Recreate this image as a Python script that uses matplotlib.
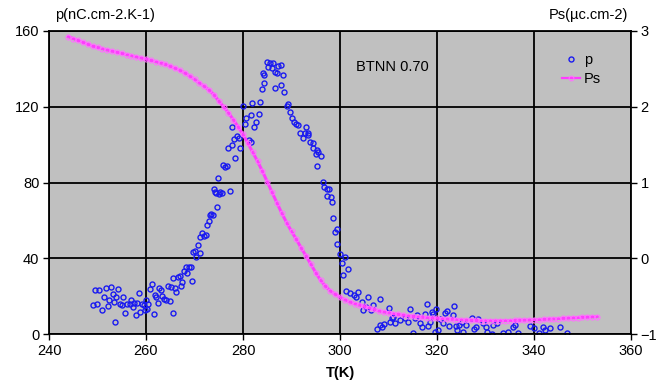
import matplotlib
matplotlib.use("Agg")
import matplotlib.pyplot as plt
from matplotlib.lines import Line2D

plt.rcParams['font.family'] = ['Liberation Sans', 'DejaVu Sans']

# Pyroelectric coefficient p (left axis)
T_p = [249.1, 249.5, 249.8, 250.4, 250.9, 251.4, 251.8, 252.1, 252.4, 252.8,
       253.1, 253.4, 253.6, 253.9, 254.3, 254.6, 255.0, 255.3, 255.7, 256.0,
       256.6, 256.9, 257.4, 257.6, 258.0, 258.2, 258.6, 258.8, 259.1, 259.5,
       259.7, 260.0, 260.2, 260.5, 260.9, 261.2, 261.6, 261.8, 262.1, 262.4,
       262.7, 263.1, 263.3, 263.8, 264.2, 264.5, 264.9, 265.2, 265.5, 265.6,
       265.9, 266.2, 266.6, 267.0, 267.3, 267.5, 267.8, 268.2, 268.5, 268.9,
       269.2, 269.4, 269.6, 270.0, 270.4, 270.8, 271.1, 271.2, 271.6, 271.9,
       272.4, 272.5, 272.9, 273.2, 273.4, 273.9, 274.0, 274.3, 274.4, 274.7,
       274.9, 275.0, 275.3, 275.7, 275.9, 276.3, 276.6, 277.0, 277.3, 277.7,
       277.7, 278.1, 278.4, 278.7, 279.2, 279.4, 279.9, 280.4, 280.6, 281.3,
       281.6, 281.6, 281.9, 282.3, 282.7, 283.3, 283.5, 283.9, 284.1, 284.3,
       284.4, 284.9, 285.2, 285.6, 285.9, 286.1, 286.6, 286.6, 287.1, 287.3,
       287.8, 287.8, 288.2, 288.5, 289.0, 289.3, 289.7, 290.0, 290.5, 290.9,
       291.4, 291.8, 292.3, 292.8, 293.0, 293.5, 293.5, 293.8, 294.4, 294.5,
       295.1, 295.2, 295.3, 295.5, 296.0, 296.4, 296.7, 297.3, 297.4, 297.8,
       298.1, 298.3, 298.6, 299.0, 299.3, 299.4, 299.9, 300.4, 300.7, 301.0,
       301.2, 301.7, 302.1, 302.8, 303.3, 303.8, 304.5, 304.8, 305.4, 305.8,
       306.3, 306.9, 307.6, 308.2, 308.2, 308.6, 309.1, 310.0, 310.3, 310.7,
       311.0, 311.3, 312.4, 313.4, 314.1, 314.4, 315.0, 315.5, 315.9, 316.5,
       317.0, 317.5, 317.9, 318.2, 318.6, 318.9, 319.2, 319.6, 319.8, 320.3,
       320.6, 321.3, 321.6, 322.1, 322.5, 323.2, 323.6, 323.9, 324.2, 324.6,
       325.1, 325.4, 326.0, 327.2, 327.6, 328.0, 328.5, 329.5, 330.1, 330.4,
       331.3, 331.6, 332.3, 333.7, 334.7, 335.6, 336.1, 336.8, 339.2, 339.9,
       341.1, 341.8, 342.3, 343.2, 345.4, 346.9]
p_vals = [15.3, 23.2, 16.0, 23.2, 12.7, 19.7, 24.1, 14.8, 17.7, 25.0,
          21.2, 16.9, 6.5, 19.7, 23.6, 16.0, 15.1, 19.7, 10.9, 16.0,
          15.6, 18.0, 14.0, 16.5, 9.9, 16.5, 21.8, 11.6, 16.0, 15.1,
          12.5, 18.0, 13.4, 15.6, 23.6, 26.4, 10.5, 20.6, 19.4, 16.4,
          24.1, 23.0, 19.9, 18.4, 17.7, 25.3, 17.2, 24.6, 11.0, 29.4,
          24.1, 22.3, 29.9, 30.6, 25.3, 27.6, 33.4, 35.2, 32.4, 35.5,
          35.2, 28.2, 43.4, 43.9, 40.8, 46.9, 51.1, 42.9, 53.2, 52.0,
          52.5, 57.3, 59.9, 62.8, 63.5, 63.1, 76.4, 74.9, 74.3, 67.0,
          82.2, 73.7, 75.1, 74.4, 89.2, 88.0, 88.7, 98.0, 75.3, 99.8,
          109.5, 102.8, 92.8, 104.5, 103.3, 98.0, 120.5, 110.9, 113.9, 102.4,
          101.5, 115.6, 122.1, 109.1, 112.1, 116.0, 122.7, 129.2, 138.0, 136.7,
          132.4, 143.8, 141.1, 142.9, 140.3, 143.2, 138.5, 129.7, 138.0, 141.5,
          142.0, 131.5, 136.7, 127.6, 120.4, 121.3, 117.4, 113.9, 112.1, 110.9,
          110.3, 106.0, 103.3, 106.0, 109.1, 106.3, 105.1, 101.5, 98.0, 101.0,
          95.0, 97.1, 88.7, 96.3, 94.0, 80.4, 77.8, 76.4, 72.9, 76.4,
          72.5, 69.9, 61.1, 54.0, 55.3, 47.5, 42.2, 37.3, 31.2, 40.8,
          22.9, 34.2, 21.8, 20.6, 19.4, 22.3, 17.1, 12.7, 14.1, 19.4,
          12.7, 15.3, 2.5, 18.3, 4.8, 3.5, 5.3, 13.6, 6.5, 8.3,
          8.8, 6.0, 7.4, 8.3, 6.5, 13.0, 0.4, 8.3, 10.0, 5.6,
          3.9, 10.6, 15.8, 4.2, 6.5, 11.8, 10.6, 1.2, 13.0, 2.1,
          7.8, 6.0, 11.2, 12.3, 4.2, 10.0, 14.8, 4.2, 2.1, 4.8,
          6.5, 1.2, 4.8, 8.3, 2.5, 3.9, 7.8, 5.6, 3.5, 1.2,
          0.0, 4.8, 6.0, 0.4, 1.2, 3.9, 4.8, 0.7, 4.2, 3.0,
          0.7, 3.5, 2.1, 3.0, 3.5, 0.4]

# Spontaneous polarisation Ps (right axis)
T_ps = list(range(244, 354))
ps_vals = [2.925, 2.900, 2.875, 2.850, 2.825, 2.800, 2.783, 2.766, 2.750, 2.734,
           2.719, 2.704, 2.689, 2.674, 2.659, 2.644, 2.628, 2.612, 2.596, 2.578,
           2.559, 2.534, 2.508, 2.480, 2.447, 2.405, 2.362, 2.314, 2.270, 2.220,
           2.160, 2.075, 2.000, 1.920, 1.830, 1.735, 1.635, 1.520, 1.400, 1.280,
           1.150, 1.010, 0.870, 0.730, 0.595, 0.470, 0.355, 0.250, 0.135, 0.030,
           -0.080, -0.190, -0.290, -0.370, -0.430, -0.475, -0.515, -0.548, -0.575, -0.598,
           -0.618, -0.636, -0.655, -0.675, -0.695, -0.708, -0.720, -0.731, -0.741, -0.750,
           -0.760, -0.768, -0.774, -0.779, -0.784, -0.789, -0.793, -0.797, -0.801, -0.805,
           -0.809, -0.813, -0.816, -0.819, -0.821, -0.822, -0.823, -0.824, -0.824, -0.824,
           -0.823, -0.822, -0.821, -0.819, -0.817, -0.815, -0.812, -0.809, -0.806, -0.803,
           -0.800, -0.796, -0.793, -0.790, -0.786, -0.783, -0.780, -0.777, -0.774, -0.771]

x_ticks = [240, 260, 280, 300, 320, 340, 360]
p_ticks = [0, 40, 80, 120, 160]
ps_ticks = [-1, 0, 1, 2, 3]

P_COLOR = '#1A1AF0'
PS_LINE = '#FF3CFF'
PS_EDGE = '#FF70FF'

W, H = 659, 390
fig = plt.figure(figsize=(W / 100, H / 100), dpi=100)
fig.patch.set_facecolor('white')
ax = fig.add_axes([49 / W, 1 - 334 / H, (631 - 49) / W, (334 - 31) / H])
ax.set_facecolor('#C0C0C0')

ax.set_xlim(240, 360)
ax.set_ylim(0, 160)
ax.set_xticks(x_ticks)
ax.set_yticks(p_ticks)
ax.grid(True, color='black', linewidth=1.3)
ax.set_axisbelow(True)
for s in ax.spines.values():
    s.set_color('black')
    s.set_linewidth(1.3)
ax.tick_params(axis='both', direction='out', length=4, width=1.0,
               labelsize=10.5, colors='black', pad=3)

ax.plot(T_p, p_vals, linestyle='none', marker='o', markersize=3.6,
        markerfacecolor='none', markeredgecolor=P_COLOR, markeredgewidth=1.0,
        label='p')

ax2 = ax.twinx()
ax2.set_ylim(-1, 3)
ax2.set_yticks(ps_ticks)
ax2.tick_params(axis='y', direction='out', length=4, width=1.0,
                labelsize=10.5, colors='black', pad=3)
for s in ax2.spines.values():
    s.set_visible(False)
ax2.plot(T_ps, ps_vals, color=PS_LINE, linewidth=2.2, marker='o',
         markersize=3.6, markerfacecolor='none', markeredgecolor=PS_EDGE,
         markeredgewidth=0.8)

ax.set_xlabel('T(K)', fontsize=10.5, fontweight='bold', labelpad=6)

fig.text(55 / W, 1 - 15 / H, 'p(nC.cm-2.K-1)', fontsize=10.5,
         ha='left', va='center')
fig.text(628 / W, 1 - 15 / H, 'Ps(µc.cm-2)', fontsize=10.5,
         ha='right', va='center')
ax.text(303.3, 141, 'BTNN 0.70', fontsize=10.5, ha='left', va='center')

handles = [
    Line2D([], [], linestyle='none', marker='o', markersize=3.6,
           markerfacecolor='none', markeredgecolor=P_COLOR,
           markeredgewidth=1.0),
    Line2D([], [], color=PS_LINE, linewidth=1.6, marker='o', markersize=3.4,
           markerfacecolor='none', markeredgecolor=PS_EDGE,
           markeredgewidth=0.8),
]
ax2.legend(handles, ['p', 'Ps'], loc='upper left',
           bbox_to_anchor=((562 - 49) / 582, (334 - 53) / 303),
           frameon=False, fontsize=10.5, handlelength=1.2, handletextpad=0.3,
           labelspacing=0.35, borderpad=0, borderaxespad=0)

fig.savefig('out.png', dpi=100)
